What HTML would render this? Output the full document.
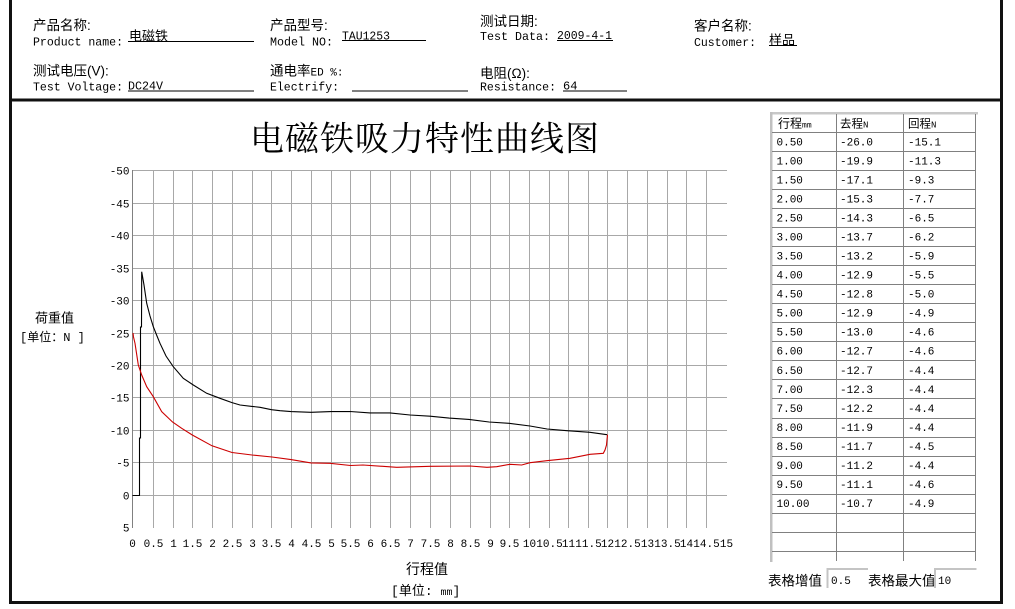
<!DOCTYPE html>
<html><head><meta charset="utf-8">
<style>
html,body{margin:0;padding:0;background:#fff;}
body{width:1015px;height:609px;overflow:hidden;}
svg{display:block;}
.m{font-family:"Liberation Mono","Noto Sans CJK SC",monospace;}
.c{font-family:"Liberation Sans","Noto Sans CJK SC",sans-serif;}
</style></head><body>
<svg width="1015" height="609" viewBox="0 0 1015 609" xmlns="http://www.w3.org/2000/svg">
<rect x="0" y="0" width="1015" height="609" fill="#fff"/>

<!-- frame -->
<rect x="9" y="0" width="3" height="604" fill="#111"/>
<rect x="1000" y="0" width="3" height="604" fill="#111"/>
<rect x="9" y="98.5" width="994" height="3" fill="#111"/>
<rect x="9" y="601" width="994" height="3" fill="#111"/>

<!-- header -->
<g fill="#000">
<text class="c" x="33" y="30" font-size="13.5">产品名称:</text>
<text class="m" x="33" y="45.5" font-size="12" textLength="90" lengthAdjust="spacingAndGlyphs">Product name:</text>
<text class="c" x="129" y="40.5" font-size="13">电磁铁</text>
<rect x="128" y="41" width="126" height="1"/>

<text class="c" x="270" y="30" font-size="13.5">产品型号:</text>
<text class="m" x="270" y="45.5" font-size="12" textLength="63" lengthAdjust="spacingAndGlyphs">Model NO:</text>
<text class="m" x="342" y="39.5" font-size="12" textLength="48" lengthAdjust="spacingAndGlyphs">TAU1253</text>
<rect x="342" y="40" width="84" height="1"/>

<text class="c" x="480" y="26" font-size="13.5">测试日期:</text>
<text class="m" x="480" y="40" font-size="12" textLength="70" lengthAdjust="spacingAndGlyphs">Test Data:</text>
<text class="m" x="557" y="39" font-size="12" textLength="55" lengthAdjust="spacingAndGlyphs">2009-4-1</text>
<rect x="557" y="40" width="56" height="1"/>

<text class="c" x="694" y="30.5" font-size="13.5">客户名称:</text>
<text class="m" x="694" y="46" font-size="12" textLength="62" lengthAdjust="spacingAndGlyphs">Customer:</text>
<text class="c" x="769" y="44.5" font-size="13">样品</text>
<rect x="769" y="45" width="28" height="1"/>

<text class="c" x="33" y="75.5" font-size="13.5">测试电压(V):</text>
<text class="m" x="33" y="90.5" font-size="12" textLength="90" lengthAdjust="spacingAndGlyphs">Test Voltage:</text>
<text class="m" x="128" y="89.5" font-size="12" textLength="35" lengthAdjust="spacingAndGlyphs">DC24V</text>
<rect x="128" y="90.5" width="126" height="1"/>

<text class="c" x="270" y="75.5" font-size="13.5">通电率<tspan class="m" font-size="11">ED %:</tspan></text>
<text class="m" x="270" y="90.5" font-size="12" textLength="69" lengthAdjust="spacingAndGlyphs">Electrify:</text>
<rect x="352" y="90.5" width="116" height="1"/>

<text class="c" x="480" y="78" font-size="13.5">电阻(Ω):</text>
<text class="m" x="480" y="90.5" font-size="12" textLength="76" lengthAdjust="spacingAndGlyphs">Resistance:</text>
<text class="m" x="563" y="89.5" font-size="12">64</text>
<rect x="563" y="90.5" width="64" height="1"/>
</g>

<!-- title -->
<text x="250" y="150.5" font-size="34" letter-spacing="1" font-family="'Liberation Serif','Noto Serif CJK SC',serif" fill="#000">电磁铁吸力特性曲线图</text>

<!-- grid -->
<g stroke="#a8a8a8" stroke-width="1" shape-rendering="crispEdges">
<line x1="132" y1="170.5" x2="727" y2="170.5"/>
<line x1="132" y1="203.5" x2="727" y2="203.5"/>
<line x1="132" y1="235.5" x2="727" y2="235.5"/>
<line x1="132" y1="268.5" x2="727" y2="268.5"/>
<line x1="132" y1="300.5" x2="727" y2="300.5"/>
<line x1="132" y1="333.5" x2="727" y2="333.5"/>
<line x1="132" y1="365.5" x2="727" y2="365.5"/>
<line x1="132" y1="397.5" x2="727" y2="397.5"/>
<line x1="132" y1="430.5" x2="727" y2="430.5"/>
<line x1="132" y1="462.5" x2="727" y2="462.5"/>
<line x1="132" y1="495.5" x2="727" y2="495.5"/>
<line x1="153.5" y1="170" x2="153.5" y2="528"/>
<line x1="173.5" y1="170" x2="173.5" y2="528"/>
<line x1="192.5" y1="170" x2="192.5" y2="528"/>
<line x1="212.5" y1="170" x2="212.5" y2="528"/>
<line x1="232.5" y1="170" x2="232.5" y2="528"/>
<line x1="252.5" y1="170" x2="252.5" y2="528"/>
<line x1="271.5" y1="170" x2="271.5" y2="528"/>
<line x1="291.5" y1="170" x2="291.5" y2="528"/>
<line x1="311.5" y1="170" x2="311.5" y2="528"/>
<line x1="331.5" y1="170" x2="331.5" y2="528"/>
<line x1="350.5" y1="170" x2="350.5" y2="528"/>
<line x1="370.5" y1="170" x2="370.5" y2="528"/>
<line x1="390.5" y1="170" x2="390.5" y2="528"/>
<line x1="410.5" y1="170" x2="410.5" y2="528"/>
<line x1="430.5" y1="170" x2="430.5" y2="528"/>
<line x1="450.5" y1="170" x2="450.5" y2="528"/>
<line x1="470.5" y1="170" x2="470.5" y2="528"/>
<line x1="490.5" y1="170" x2="490.5" y2="528"/>
<line x1="509.5" y1="170" x2="509.5" y2="528"/>
<line x1="529.5" y1="170" x2="529.5" y2="528"/>
<line x1="549.5" y1="170" x2="549.5" y2="528"/>
<line x1="568.5" y1="170" x2="568.5" y2="528"/>
<line x1="588.5" y1="170" x2="588.5" y2="528"/>
<line x1="607.5" y1="170" x2="607.5" y2="528"/>
<line x1="627.5" y1="170" x2="627.5" y2="528"/>
<line x1="647.5" y1="170" x2="647.5" y2="528"/>
<line x1="667.5" y1="170" x2="667.5" y2="528"/>
<line x1="686.5" y1="170" x2="686.5" y2="528"/>
<line x1="706.5" y1="170" x2="706.5" y2="528"/>
</g>
<line x1="132.5" y1="170" x2="132.5" y2="528" stroke="#808080" stroke-width="1" shape-rendering="crispEdges"/>

<!-- y tick labels -->
<g class="m" font-size="11" fill="#000" text-anchor="end">
<text x="129.5" y="174.5">-50</text>
<text x="129.5" y="207.5">-45</text>
<text x="129.5" y="239.5">-40</text>
<text x="129.5" y="272.5">-35</text>
<text x="129.5" y="304.5">-30</text>
<text x="129.5" y="337.5">-25</text>
<text x="129.5" y="369.5">-20</text>
<text x="129.5" y="401.5">-15</text>
<text x="129.5" y="434.5">-10</text>
<text x="129.5" y="466.5">-5</text>
<text x="129.5" y="499.5">0</text>
<text x="129.5" y="531.5">5</text>
</g>

<!-- x tick labels -->
<g class="m" font-size="11" fill="#000" text-anchor="middle">
<text x="132.5" y="547">0</text>
<text x="153.5" y="547">0.5</text>
<text x="173.5" y="547">1</text>
<text x="192.5" y="547">1.5</text>
<text x="212.5" y="547">2</text>
<text x="232.5" y="547">2.5</text>
<text x="252.5" y="547">3</text>
<text x="271.5" y="547">3.5</text>
<text x="291.5" y="547">4</text>
<text x="311.5" y="547">4.5</text>
<text x="331.5" y="547">5</text>
<text x="350.5" y="547">5.5</text>
<text x="370.5" y="547">6</text>
<text x="390.5" y="547">6.5</text>
<text x="410.5" y="547">7</text>
<text x="430.5" y="547">7.5</text>
<text x="450.5" y="547">8</text>
<text x="470.5" y="547">8.5</text>
<text x="490.5" y="547">9</text>
<text x="509.5" y="547">9.5</text>
<text x="529.5" y="547">10</text>
<text x="549.5" y="547">10.5</text>
<text x="568.5" y="547">11</text>
<text x="588.5" y="547">11.5</text>
<text x="607.5" y="547">12</text>
<text x="627.5" y="547">12.5</text>
<text x="647.5" y="547">13</text>
<text x="667.5" y="547">13.5</text>
<text x="686.5" y="547">14</text>
<text x="706.5" y="547">14.5</text>
<text x="726.5" y="547">15</text>
</g>

<!-- axis titles -->
<text class="c" x="35" y="322.5" font-size="13" fill="#000">荷重值</text>
<text class="m" x="20" y="341" font-size="12" fill="#000">[<tspan class="c">单位：</tspan>N  ]</text>
<text class="c" x="406" y="574" font-size="14" fill="#000">行程值</text>
<text class="m" x="391" y="595" font-size="13" fill="#000">[<tspan class="c">单位</tspan>: <tspan font-size="10">mm</tspan>]</text>

<!-- curves -->
<polyline fill="none" stroke="#000" stroke-width="1.1" points="132.5,495.5 139.5,495.5 139.5,438 140.5,438 140.5,327 141.5,327 141.7,271.7 144,285 146.7,303.3 150,316 153.3,326.7 157,336 160,343.3 166,356 173.3,366.7 183.3,378.3 193.3,385 206.7,393.3 220,398.3 232,402.6 240,405 252,406.4 260,407.3 271.5,409.7 280,410.7 291,411.6 311,412.3 331,411.6 350,411.5 370,412.9 390,412.9 410,415 430,416.2 449,418.1 469,419.4 489,422 509,423.3 530,426 547,429 567,430.7 590,432.3 607,434.7"/>
<polyline fill="none" stroke="#cc0000" stroke-width="1.1" points="607.5,434.7 606.5,445 605,450 603.3,453.3 590,454.3 570,458.3 546.7,460.7 530,462.7 521.7,465 510,464.3 496.7,466.7 487,467.3 470,466 430,466.3 396.7,467.3 363,465 350.5,465.5 330,463.3 311,462.9 291,459.6 272,457 252,455 232,452.5 212,445.8 192.3,435 181.7,428.3 172.5,422 161.7,411.7 153.3,396.7 146.7,386.7 141.7,375 138.3,365 135,343.3 133.5,337 133,333"/>

<!-- table -->
<rect x="770" y="112" width="208" height="2.5" fill="#c8c8c8"/>
<rect x="770" y="112" width="2.5" height="450" fill="#c0c0c0"/>
<g stroke="#808080" stroke-width="1" shape-rendering="crispEdges">
<line x1="836.5" y1="114" x2="836.5" y2="561"/>
<line x1="903.5" y1="114" x2="903.5" y2="561"/>
<line x1="975.5" y1="114" x2="975.5" y2="561"/>
<line x1="772" y1="132.5" x2="976" y2="132.5"/>
<line x1="772" y1="151.5" x2="976" y2="151.5"/>
<line x1="772" y1="170.5" x2="976" y2="170.5"/>
<line x1="772" y1="189.5" x2="976" y2="189.5"/>
<line x1="772" y1="208.5" x2="976" y2="208.5"/>
<line x1="772" y1="227.5" x2="976" y2="227.5"/>
<line x1="772" y1="246.5" x2="976" y2="246.5"/>
<line x1="772" y1="265.5" x2="976" y2="265.5"/>
<line x1="772" y1="284.5" x2="976" y2="284.5"/>
<line x1="772" y1="303.5" x2="976" y2="303.5"/>
<line x1="772" y1="322.5" x2="976" y2="322.5"/>
<line x1="772" y1="341.5" x2="976" y2="341.5"/>
<line x1="772" y1="360.5" x2="976" y2="360.5"/>
<line x1="772" y1="379.5" x2="976" y2="379.5"/>
<line x1="772" y1="398.5" x2="976" y2="398.5"/>
<line x1="772" y1="418.5" x2="976" y2="418.5"/>
<line x1="772" y1="437.5" x2="976" y2="437.5"/>
<line x1="772" y1="456.5" x2="976" y2="456.5"/>
<line x1="772" y1="475.5" x2="976" y2="475.5"/>
<line x1="772" y1="494.5" x2="976" y2="494.5"/>
<line x1="772" y1="513.5" x2="976" y2="513.5"/>
<line x1="772" y1="532.5" x2="976" y2="532.5"/>
<line x1="772" y1="551.5" x2="976" y2="551.5"/>
</g>
<g fill="#000">
<text class="c" x="778" y="127.5" font-size="12">行程<tspan class="m" font-size="8">mm</tspan></text>
<text class="c" x="840" y="127.5" font-size="11.5">去程<tspan class="m" font-size="9">N</tspan></text>
<text class="c" x="908" y="127.5" font-size="11.5">回程<tspan class="m" font-size="9">N</tspan></text>
</g>
<g class="m" font-size="11" fill="#000">
<text x="776.5" y="145.3">0.50</text><text x="840" y="145.3">-26.0</text><text x="908" y="145.3">-15.1</text>
<text x="776.5" y="164.3">1.00</text><text x="840" y="164.3">-19.9</text><text x="908" y="164.3">-11.3</text>
<text x="776.5" y="183.3">1.50</text><text x="840" y="183.3">-17.1</text><text x="908" y="183.3">-9.3</text>
<text x="776.5" y="202.4">2.00</text><text x="840" y="202.4">-15.3</text><text x="908" y="202.4">-7.7</text>
<text x="776.5" y="221.4">2.50</text><text x="840" y="221.4">-14.3</text><text x="908" y="221.4">-6.5</text>
<text x="776.5" y="240.5">3.00</text><text x="840" y="240.5">-13.7</text><text x="908" y="240.5">-6.2</text>
<text x="776.5" y="259.5">3.50</text><text x="840" y="259.5">-13.2</text><text x="908" y="259.5">-5.9</text>
<text x="776.5" y="278.5">4.00</text><text x="840" y="278.5">-12.9</text><text x="908" y="278.5">-5.5</text>
<text x="776.5" y="297.6">4.50</text><text x="840" y="297.6">-12.8</text><text x="908" y="297.6">-5.0</text>
<text x="776.5" y="316.6">5.00</text><text x="840" y="316.6">-12.9</text><text x="908" y="316.6">-4.9</text>
<text x="776.5" y="335.7">5.50</text><text x="840" y="335.7">-13.0</text><text x="908" y="335.7">-4.6</text>
<text x="776.5" y="354.7">6.00</text><text x="840" y="354.7">-12.7</text><text x="908" y="354.7">-4.6</text>
<text x="776.5" y="373.8">6.50</text><text x="840" y="373.8">-12.7</text><text x="908" y="373.8">-4.4</text>
<text x="776.5" y="392.8">7.00</text><text x="840" y="392.8">-12.3</text><text x="908" y="392.8">-4.4</text>
<text x="776.5" y="411.8">7.50</text><text x="840" y="411.8">-12.2</text><text x="908" y="411.8">-4.4</text>
<text x="776.5" y="430.9">8.00</text><text x="840" y="430.9">-11.9</text><text x="908" y="430.9">-4.4</text>
<text x="776.5" y="449.9">8.50</text><text x="840" y="449.9">-11.7</text><text x="908" y="449.9">-4.5</text>
<text x="776.5" y="469">9.00</text><text x="840" y="469">-11.2</text><text x="908" y="469">-4.4</text>
<text x="776.5" y="488">9.50</text><text x="840" y="488">-11.1</text><text x="908" y="488">-4.6</text>
<text x="776.5" y="507.1">10.00</text><text x="840" y="507.1">-10.7</text><text x="908" y="507.1">-4.9</text>
</g>

<!-- bottom controls -->
<text class="c" x="768" y="585.5" font-size="13.5" fill="#000">表格增值</text>
<rect x="826.5" y="568" width="41.5" height="2" fill="#c4c4c4"/>
<rect x="826.5" y="568" width="2" height="20" fill="#c4c4c4"/>
<text class="m" x="831" y="584" font-size="11" fill="#000">0.5</text>
<text class="c" x="868" y="585.5" font-size="13.5" fill="#000">表格最大值</text>
<rect x="934" y="568" width="42.5" height="2" fill="#c4c4c4"/>
<rect x="934" y="568" width="2" height="20" fill="#c4c4c4"/>
<text class="m" x="938" y="584" font-size="11" fill="#000">10</text>
</svg>
</body></html>
